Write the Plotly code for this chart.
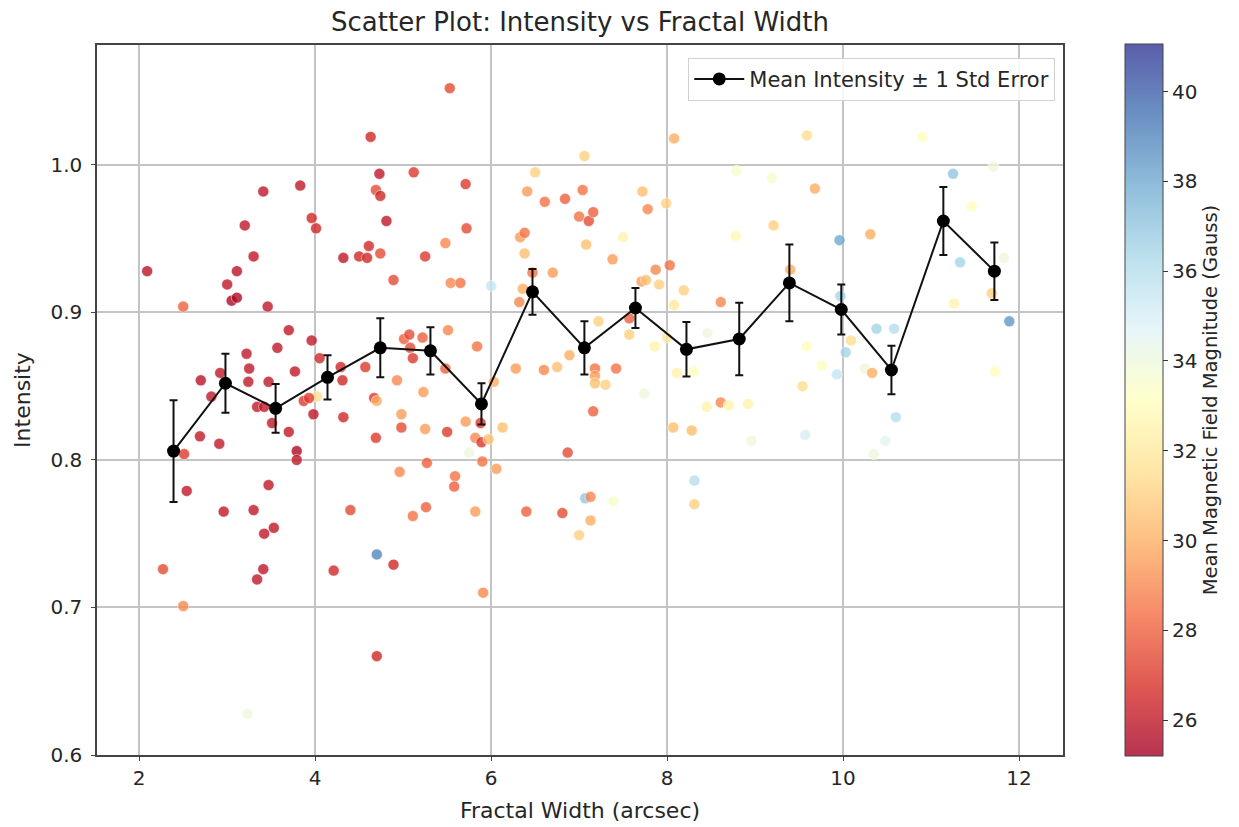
import plotly.graph_objects as go

# ---------------- data ----------------
fractal_width = [
    4.63, 4.73, 5.12, 3.41, 3.83, 4.69, 4.74, 3.96, 4.01, 4.81,
    3.20, 3.30, 4.32, 4.50, 4.59, 4.61, 4.74, 5.25, 2.09, 3.11,
    3.00, 3.05, 3.11, 3.46, 2.50, 4.89, 3.70, 3.96, 3.57, 3.22,
    4.05, 3.25, 3.24, 2.92, 2.70, 3.47, 3.77, 4.29, 4.31, 4.57,
    5.01, 5.07, 5.22, 5.08, 5.11, 4.93, 5.23, 4.67, 4.70, 2.82,
    4.02, 3.87, 3.93, 3.34, 3.42, 3.51, 3.70, 3.98, 4.32, 2.69,
    2.91, 2.51, 3.79, 3.79, 4.69, 4.98, 4.98, 5.25, 5.27, 4.96,
    2.54, 3.47, 2.96, 3.30, 3.53, 3.42, 4.40, 5.26, 5.11, 4.70,
    4.89, 2.27, 3.41, 3.34, 4.21, 2.50, 4.70, 3.23,
    5.53, 8.08, 7.06, 6.50, 8.79, 5.71, 6.41, 6.61, 6.84, 7.04,
    7.00, 7.11, 7.16, 7.72, 7.78, 7.99, 8.78, 5.72, 5.48, 6.33,
    6.38, 6.38, 7.08, 7.50, 7.38, 5.54, 5.65, 6.00, 6.47, 6.70,
    6.36, 6.32, 7.71, 7.76, 7.87, 8.03, 7.91, 8.19, 8.08, 8.61,
    7.57, 5.51, 5.84, 7.22, 7.57, 8.46, 7.86, 8.00, 6.89, 5.48,
    6.28, 6.60, 6.75, 7.18, 7.18, 7.42, 7.18, 7.30, 8.11, 8.30,
    6.03, 7.74, 8.61,
    7.16, 5.50, 5.71, 5.88, 6.13, 5.82, 5.89, 5.97, 5.75, 5.90,
    6.06, 5.59, 5.58, 6.87, 8.07, 8.28, 8.45, 8.70, 8.92, 5.82,
    6.40, 6.81, 7.07, 7.13, 7.39, 7.13, 7.00, 8.31, 8.31, 5.91,
    9.59, 10.90, 9.19, 9.68, 11.25, 11.71, 9.21, 9.96, 10.31, 11.46,
    11.33, 11.83, 9.40, 9.97, 11.69, 11.26, 11.89, 10.38, 10.58, 9.59,
    10.09, 10.03, 9.76, 9.93, 10.25, 10.33, 11.73, 9.54, 8.96, 9.57,
    10.60, 10.48, 10.35,
]

intensity = [
    1.019, 0.994, 0.995, 0.982, 0.986, 0.983, 0.979, 0.964, 0.957, 0.962,
    0.959, 0.938, 0.937, 0.938, 0.937, 0.945, 0.940, 0.938, 0.928, 0.928,
    0.919, 0.908, 0.910, 0.904, 0.904, 0.922, 0.888, 0.881, 0.876, 0.872,
    0.869, 0.862, 0.853, 0.859, 0.854, 0.853, 0.860, 0.863, 0.854, 0.863,
    0.882, 0.885, 0.883, 0.876, 0.869, 0.854, 0.846, 0.842, 0.840, 0.843,
    0.843, 0.840, 0.842, 0.836, 0.836, 0.825, 0.819, 0.831, 0.829, 0.816,
    0.811, 0.804, 0.806, 0.800, 0.815, 0.831, 0.822, 0.821, 0.798, 0.792,
    0.779, 0.783, 0.765, 0.766, 0.754, 0.750, 0.766, 0.768, 0.762, 0.736,
    0.729, 0.726, 0.726, 0.719, 0.725, 0.701, 0.667, 0.628,
    1.052, 1.018, 1.006, 0.995, 0.996, 0.987, 0.982, 0.975, 0.977, 0.983,
    0.965, 0.962, 0.968, 0.982, 0.970, 0.974, 0.952, 0.957, 0.947, 0.951,
    0.954, 0.940, 0.946, 0.951, 0.936, 0.920, 0.920, 0.918, 0.927, 0.927,
    0.916, 0.907, 0.921, 0.922, 0.929, 0.932, 0.919, 0.915, 0.905, 0.907,
    0.896, 0.888, 0.877, 0.894, 0.885, 0.886, 0.877, 0.883, 0.871, 0.862,
    0.862, 0.861, 0.863, 0.862, 0.857, 0.862, 0.852, 0.851, 0.859, 0.860,
    0.853, 0.845, 0.839,
    0.833, 0.819, 0.826, 0.825, 0.822, 0.815, 0.812, 0.814, 0.805, 0.799,
    0.794, 0.789, 0.782, 0.805, 0.822, 0.820, 0.836, 0.837, 0.838, 0.765,
    0.765, 0.764, 0.774, 0.775, 0.772, 0.759, 0.749, 0.786, 0.770, 0.710,
    1.020, 1.019, 0.991, 0.984, 0.994, 0.999, 0.959, 0.949, 0.953, 0.972,
    0.934, 0.937, 0.929, 0.911, 0.913, 0.906, 0.894, 0.889, 0.889, 0.877,
    0.881, 0.873, 0.864, 0.858, 0.862, 0.859, 0.860, 0.850, 0.813, 0.817,
    0.829, 0.813, 0.804,
]

magnetic_field = [
    26.5, 26.0, 27.0, 26.0, 26.0, 27.5, 26.5, 26.5, 26.5, 26.0,
    26.0, 26.0, 26.0, 26.5, 26.5, 26.5, 27.5, 27.0, 25.8, 25.8,
    26.0, 25.5, 25.5, 26.0, 28.0, 27.5, 26.0, 26.0, 26.0, 26.0,
    26.5, 26.0, 26.0, 26.0, 25.8, 26.0, 26.0, 26.5, 26.5, 27.0,
    28.0, 27.5, 28.0, 27.5, 27.0, 29.0, 29.5, 27.0, 30.0, 26.0,
    31.5, 27.0, 27.0, 26.0, 26.0, 26.0, 26.0, 26.0, 26.5, 26.0,
    26.0, 27.0, 25.5, 26.0, 27.0, 29.5, 27.5, 29.5, 28.0, 29.0,
    26.0, 26.0, 26.0, 26.0, 26.0, 26.0, 27.5, 28.0, 28.5, 39.0,
    26.5, 27.5, 26.0, 26.0, 26.5, 29.0, 26.5, 34.0,
    27.5, 30.0, 31.0, 31.0, 33.5, 27.0, 29.5, 28.5, 28.0, 28.5,
    28.5, 27.5, 28.0, 30.5, 29.0, 31.0, 32.8, 27.5, 29.0, 29.5,
    28.5, 30.5, 30.5, 32.5, 29.5, 29.0, 28.5, 35.5, 28.5, 29.5,
    30.0, 29.0, 29.5, 30.5, 29.0, 28.5, 31.0, 31.0, 32.0, 29.0,
    28.0, 29.0, 28.5, 31.0, 31.0, 34.0, 32.5, 32.0, 30.0, 28.0,
    29.5, 29.0, 30.5, 28.5, 29.5, 28.5, 30.5, 31.0, 32.5, 33.0,
    30.0, 34.0, 29.0,
    28.0, 27.0, 29.5, 27.0, 30.5, 29.0, 27.0, 30.5, 34.0, 28.5,
    29.5, 28.5, 28.0, 27.5, 30.5, 30.5, 32.5, 32.5, 32.5, 29.5,
    28.0, 27.5, 37.0, 29.0, 33.5, 30.0, 31.0, 36.0, 31.0, 29.0,
    31.5, 33.0, 33.5, 30.0, 37.0, 34.0, 31.0, 38.0, 30.0, 33.0,
    36.5, 34.0, 30.0, 36.5, 31.0, 32.5, 38.5, 36.5, 36.0, 33.0,
    31.5, 36.5, 33.0, 35.5, 34.0, 30.0, 33.0, 31.5, 34.0, 35.0,
    36.0, 34.5, 34.0,
]

bin_centers = [2.39, 2.98, 3.55, 4.14, 4.74, 5.31, 5.89, 6.47, 7.06,
               7.64, 8.22, 8.82, 9.39, 9.98, 10.55, 11.14, 11.72]
mean_intensity = [0.806, 0.852, 0.835, 0.856, 0.876, 0.874, 0.838, 0.914, 0.876,
                  0.903, 0.875, 0.882, 0.920, 0.902, 0.861, 0.962, 0.928]
std_error = [0.0345, 0.020, 0.0165, 0.015, 0.020, 0.016, 0.014, 0.0155, 0.018,
             0.0135, 0.0185, 0.0245, 0.026, 0.017, 0.0165, 0.023, 0.0195]

colorbar_ticks = [26, 28, 30, 32, 34, 36, 38, 40]

# RdYlBu (ColorBrewer) with the scatter's alpha baked in
rdylbu = [(165, 0, 38), (215, 48, 39), (244, 109, 67), (253, 174, 97),
          (254, 224, 144), (255, 255, 191), (224, 243, 248), (171, 217, 233),
          (116, 173, 209), (69, 117, 180), (49, 54, 149)]
ALPHA = 0.8
colorscale = [[i / (len(rdylbu) - 1), f"rgba({r},{g},{b},{ALPHA})"]
              for i, (r, g, b) in enumerate(rdylbu)]

FONT = "DejaVu Sans"
TXT = "#262626"

fig = go.Figure()

fig.add_trace(go.Scatter(
    x=fractal_width, y=intensity, mode="markers", showlegend=False,
    marker=dict(
        size=11, color=magnetic_field, colorscale=colorscale,
        cmin=25.2, cmax=41.06,
        line=dict(width=0.6, color="rgba(255,255,255,0.8)"),
        colorbar=dict(
            title=dict(text="Mean Magnetic Field Magnitude (Gauss)", side="right",
                       font=dict(family=FONT, size=19.5, color=TXT)),
            tickvals=colorbar_ticks, ticks="outside", ticklen=5, tickwidth=1,
            tickcolor="#333",
            tickfont=dict(family=FONT, size=20, color=TXT),
            thickness=38, thicknessmode="pixels",
            len=1.003, lenmode="fraction", y=0.5, yanchor="middle",
            x=1.064, xanchor="left", xpad=0, ypad=0,
            outlinewidth=1, outlinecolor="#444",
        ),
    ),
))

fig.add_trace(go.Scatter(
    x=bin_centers, y=mean_intensity, mode="lines+markers",
    name="Mean Intensity \u00b1 1 Std Error",
    line=dict(color="#111", width=2),
    marker=dict(color="black", size=13),
    error_y=dict(type="data", array=std_error, visible=True,
                 color="#111", thickness=2, width=4),
))

fig.update_layout(
    width=1239, height=827,
    margin=dict(l=97, r=176, t=45, b=72, autoexpand=False),
    paper_bgcolor="white", plot_bgcolor="white",
    font=dict(family=FONT, size=20, color=TXT),
    title=dict(text="Scatter Plot: Intensity vs Fractal Width",
               x=0.5, xref="paper", xanchor="center",
               y=1 - 22 / 827, yref="container", yanchor="middle",
               font=dict(family=FONT, size=26, color=TXT)),
    legend=dict(x=0.992, y=0.982, xanchor="right", yanchor="top",
                itemwidth=50,
                bgcolor="rgba(255,255,255,0.85)", bordercolor="#d0d0d0",
                borderwidth=1, font=dict(family=FONT, size=21, color=TXT)),
)

fig.update_xaxes(
    range=[1.52, 12.5], tickvals=[2, 4, 6, 8, 10, 12],
    showgrid=True, gridcolor="#c4c4c4", gridwidth=1.5,
    showline=True, linecolor="#444", linewidth=1.5, mirror=True,
    ticks="outside", ticklen=4, tickcolor="#444", zeroline=False,
    automargin=False,
    title=dict(text="Fractal Width (arcsec)", standoff=14,
               font=dict(family=FONT, size=22, color=TXT)),
    tickfont=dict(family=FONT, size=20, color=TXT),
)
fig.update_yaxes(
    range=[0.6, 1.0813], tickvals=[0.6, 0.7, 0.8, 0.9, 1.0],
    ticktext=["0.6", "0.7", "0.8", "0.9", "1.0"],
    showgrid=True, gridcolor="#c4c4c4", gridwidth=1.5,
    showline=True, linecolor="#444", linewidth=1.5, mirror=True,
    ticks="outside", ticklen=4, tickcolor="#444", zeroline=False,
    automargin=False, ticklabelstandoff=5,
    title=dict(text="Intensity", standoff=14,
               font=dict(family=FONT, size=22, color=TXT)),
    tickfont=dict(family=FONT, size=20, color=TXT),
)

fig.write_html("out.html")
